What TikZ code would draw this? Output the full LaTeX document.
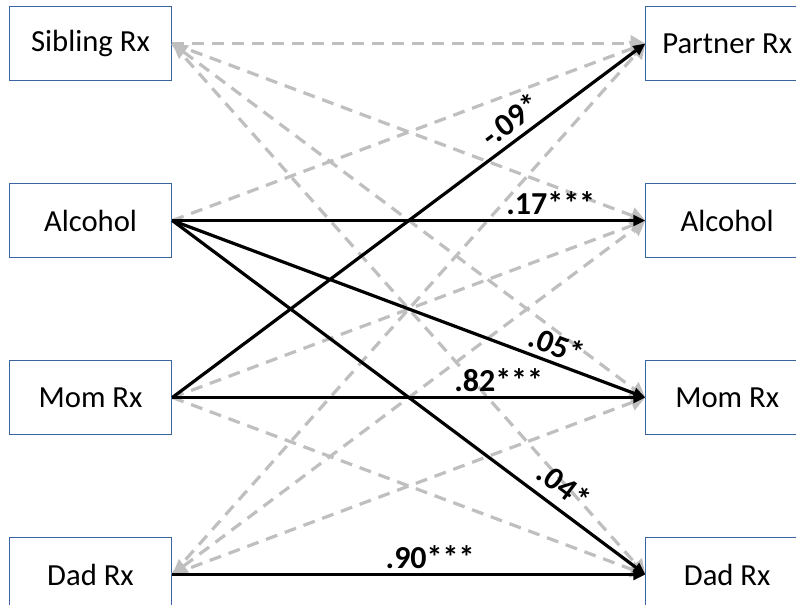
\documentclass[tikz,border=0pt]{standalone}
\usepackage{fontspec}
\setmainfont{Carlito}
\usetikzlibrary{arrows.meta,positioning}
\definecolor{boxblue}{HTML}{3A65A0}
\definecolor{nsgray}{HTML}{BFBFBF}
\tikzset{
  varbox/.style={rectangle, draw=boxblue, line width=0.75pt, fill=white, inner sep=0pt,
                 minimum width=122pt, minimum height=55pt, font=\fontsize{23}{27}\selectfont},
  sigpath/.style={-{Triangle[length=9pt,width=8pt]}, line width=2.4pt, draw=black},
  nspath/.style={-{Triangle[length=11pt,width=12pt]}, line width=2.4pt, draw=nsgray,
                 dash pattern=on 9pt off 6pt},
  nsboth/.style={nspath, {Triangle[length=11pt,width=12pt]}-{Triangle[length=11pt,width=12pt]}},
  coef/.style={font=\bfseries\fontsize{24}{28}\selectfont, inner sep=1pt},
}
\begin{document}
\begin{tikzpicture}[x=0.75pt, y=-0.75pt, node distance=77pt and 354.75pt]
  \useasboundingbox (0,0) rectangle (796,604);
  % time 1
  \node[varbox] (sibL) at (90.5,43.5) {Sibling Rx};
  \node[varbox, below=of sibL] (alcL) {Alcohol};
  \node[varbox, below=of alcL] (momL) {Mom Rx};
  \node[varbox, below=of momL] (dadL) {Dad Rx};
  % time 2
  \node[varbox, right=of sibL] (parR) {Partner Rx};
  \node[varbox, right=of alcL] (alcR) {Alcohol};
  \node[varbox, right=of momL] (momR) {Mom Rx};
  \node[varbox, right=of dadL] (dadR) {Dad Rx};
  % non-significant paths
  \draw[nspath] (sibL.east) -- (parR.west);
  \draw[nspath] (sibL.east) -- (alcR.west);
  \draw[nsboth] (sibL.east) -- (momR.west);
  \draw[nspath] (sibL.east) -- (dadR.west);
  \draw[nspath] (alcL.east) -- (parR.west);
  \draw[nspath] (momL.east) -- (alcR.west);
  \draw[nspath] (momL.east) -- (dadR.west);
  \draw[nspath] (dadL.east) -- (parR.west);
  \draw[nsboth] (dadL.east) -- (alcR.west);
  \draw[nspath] (dadL.east) -- (momR.west);
  % significant paths
  \draw[sigpath] (momL.east) -- node[coef, sloped, above=4pt, pos=0.74] {-.09*} (parR.west);
  \draw[sigpath] (alcL.east) -- node[coef, above=2pt, pos=0.8] {.17***} (alcR.west);
  \draw[sigpath] (alcL.east) -- node[coef, sloped, above=3pt, pos=0.8] {.05*} (momR.west);
  \draw[sigpath] (alcL.east) -- node[coef, sloped, above=6pt, pos=0.8] {.04*} (dadR.west);
  \draw[sigpath] (momL.east) -- node[coef, above=2pt, pos=0.69] {.82***} (momR.west);
  \draw[sigpath] (dadL.east) -- node[coef, above=2pt, pos=0.545] {.90***} (dadR.west);
\end{tikzpicture}
\end{document}
